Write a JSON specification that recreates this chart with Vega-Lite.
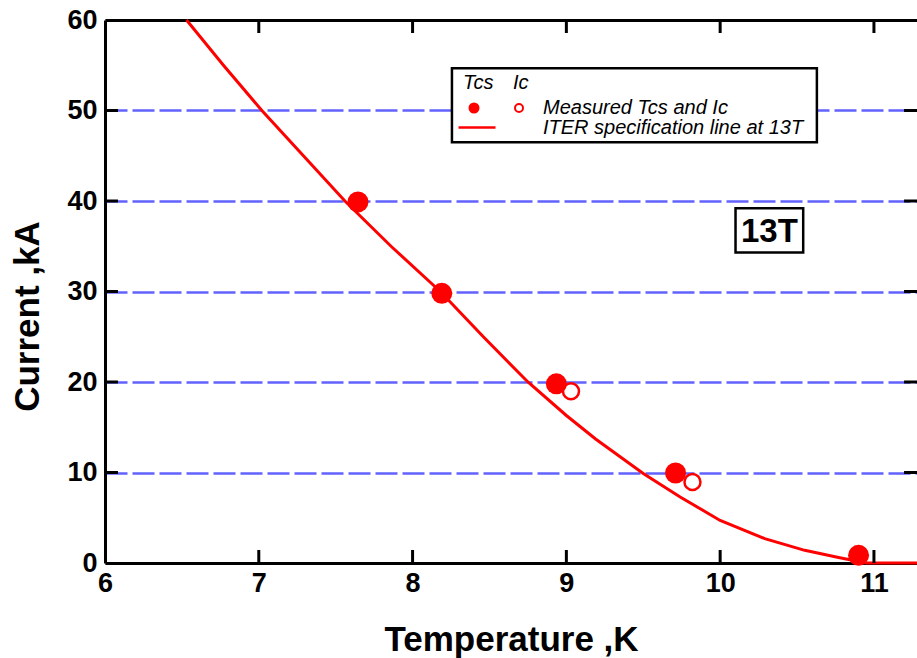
{
  "$schema": "https://vega.github.io/schema/vega-lite/v6.json",
  "width": 812,
  "height": 543,
  "autosize": "none",
  "padding": {"left": 105, "top": 20, "right": 0, "bottom": 95},
  "background": "white",
  "config": {
    "view": {"stroke": null},
    "font": "Liberation Sans",
    "axis": {
      "domainColor": "black", "domainWidth": 3,
      "labelFont": "Liberation Sans", "labelFontSize": 27, "labelFontWeight": "bold", "labelColor": "black",
      "labelFlush": false, "labelOverlap": false,
      "titleFont": "Liberation Sans", "titleFontSize": 35, "titleFontWeight": "bold", "titleColor": "black",
      "grid": false, "ticks": false
    },
    "legend": {
      "titleFont": "Liberation Sans", "titleFontSize": 20, "titleFontStyle": "italic", "titleFontWeight": "normal",
      "titleColor": "black", "titlePadding": 5,
      "labelFont": "Liberation Sans", "labelFontSize": 20, "labelFontStyle": "italic", "labelColor": "black",
      "labelLimit": 400, "padding": 0, "direction": "vertical"
    }
  },
  "datasets": {
    "curve": [
      {"T": 6.53, "I": 60}, {"T": 6.77, "I": 55}, {"T": 7.02, "I": 50}, {"T": 7.29, "I": 45},
      {"T": 7.56, "I": 40}, {"T": 7.86, "I": 35}, {"T": 8.18, "I": 30}, {"T": 8.46, "I": 25},
      {"T": 8.75, "I": 20}, {"T": 9.0, "I": 16.3}, {"T": 9.19, "I": 13.7}, {"T": 9.5, "I": 9.9},
      {"T": 9.74, "I": 7.3}, {"T": 10.0, "I": 4.7}, {"T": 10.29, "I": 2.7}, {"T": 10.55, "I": 1.4},
      {"T": 10.77, "I": 0.6}, {"T": 10.95, "I": 0}, {"T": 11.28, "I": 0}
    ],
    "tcs": [
      {"T": 7.645, "I": 39.9}, {"T": 8.19, "I": 29.8}, {"T": 8.935, "I": 19.8},
      {"T": 9.71, "I": 9.95}, {"T": 10.9, "I": 0.85}
    ],
    "ic": [
      {"T": 9.03, "I": 18.97}, {"T": 9.82, "I": 8.95}
    ],
    "xticks": [{"T": 7}, {"T": 8}, {"T": 9}, {"T": 10}, {"T": 11}],
    "yticks": [{"I": 10}, {"I": 20}, {"I": 30}, {"I": 40}, {"I": 50}],
    "note": [{"label": "13T"}]
  },
  "layer": [
    {
      "data": {"name": "note"},
      "mark": {"type": "rect", "fill": "white", "stroke": "black", "strokeWidth": 2.5},
      "encoding": {
        "x": {"datum": 8.256, "type": "quantitative", "scale": {"domain": [6, 11.28], "nice": false, "zero": false}, "axis": null},
        "x2": {"datum": 10.629},
        "y": {"datum": 54.66, "type": "quantitative", "scale": {"domain": [0, 60], "nice": false, "zero": false}, "axis": null},
        "y2": {"datum": 46.49}
      }
    },
    {
      "data": {"name": "curve"},
      "mark": {"type": "line", "strokeWidth": 3},
      "encoding": {
        "x": {"field": "T", "type": "quantitative",
          "scale": {"domain": [6, 11.28], "nice": false, "zero": false},
          "axis": {"orient": "bottom", "values": [6, 7, 8, 9, 10, 11], "labelPadding": 7,
            "title": "Temperature ,K", "titleY": 87, "titleBaseline": "alphabetic"}},
        "y": {"field": "I", "type": "quantitative",
          "scale": {"domain": [0, 60], "nice": false, "zero": false},
          "axis": {"orient": "left", "values": [0, 10, 20, 30, 40, 50, 60], "labelPadding": 8,
            "grid": true, "gridColor": "#6262ff", "gridDash": [22, 5], "gridWidth": 2.5,
            "title": "Current ,kA", "titleX": -67, "titleY": 296, "titleAngle": 270,
            "titleAlign": "center", "titleBaseline": "alphabetic"}},
        "color": {"datum": "ITER specification line at 13T",
          "scale": {"domain": ["ITER specification line at 13T"], "range": ["red"]},
          "legend": {"title": null, "orient": "none", "legendX": 352, "legendY": 87.5,
            "symbolType": "stroke", "symbolSize": 1369, "symbolStrokeWidth": 2.5, "labelOffset": 46}}
      }
    },
    {
      "data": {"name": "xticks"},
      "mark": {"type": "tick", "color": "black", "opacity": 1, "orient": "vertical", "size": 13, "thickness": 3},
      "encoding": {
        "x": {"field": "T", "type": "quantitative", "scale": {"domain": [6, 11.28], "nice": false, "zero": false},
          "axis": {"orient": "top", "values": [6, 7, 8, 9, 10, 11], "labels": false, "title": null}},
        "y": {"datum": 0.72, "type": "quantitative", "scale": {"domain": [0, 60], "nice": false, "zero": false},
          "axis": {"orient": "right", "values": [0, 10, 20, 30, 40, 50, 60], "labels": false, "title": null, "domain": false}}
      }
    },
    {
      "data": {"name": "xticks"},
      "mark": {"type": "tick", "color": "black", "opacity": 1, "orient": "vertical", "size": 13, "thickness": 3},
      "encoding": {
        "x": {"field": "T", "type": "quantitative", "scale": {"domain": [6, 11.28], "nice": false, "zero": false}, "axis": null},
        "y": {"datum": 59.28, "type": "quantitative", "scale": {"domain": [0, 60], "nice": false, "zero": false}, "axis": null}
      }
    },
    {
      "data": {"name": "yticks"},
      "mark": {"type": "tick", "color": "black", "opacity": 1, "orient": "horizontal", "size": 13, "thickness": 3},
      "encoding": {
        "y": {"field": "I", "type": "quantitative", "scale": {"domain": [0, 60], "nice": false, "zero": false}, "axis": null},
        "x": {"datum": 6.042, "type": "quantitative", "scale": {"domain": [6, 11.28], "nice": false, "zero": false}, "axis": null}
      }
    },
    {
      "data": {"name": "yticks"},
      "mark": {"type": "tick", "color": "black", "opacity": 1, "orient": "horizontal", "size": 13, "thickness": 3},
      "encoding": {
        "y": {"field": "I", "type": "quantitative", "scale": {"domain": [0, 60], "nice": false, "zero": false}, "axis": null},
        "x": {"datum": 11.238, "type": "quantitative", "scale": {"domain": [6, 11.28], "nice": false, "zero": false}, "axis": null}
      }
    },
    {
      "data": {"name": "tcs"},
      "mark": {"type": "point", "filled": true, "color": "red", "opacity": 1, "size": 441},
      "encoding": {
        "x": {"field": "T", "type": "quantitative", "scale": {"domain": [6, 11.28], "nice": false, "zero": false}, "axis": null},
        "y": {"field": "I", "type": "quantitative", "scale": {"domain": [0, 60], "nice": false, "zero": false}, "axis": null},
        "shape": {"datum": "Measured Tcs and Ic",
          "scale": {"domain": ["Measured Tcs and Ic"], "range": ["circle"]},
          "legend": {"title": "Tcs", "orient": "none", "legendX": 358, "legendY": 53,
            "symbolSize": 121, "symbolStrokeWidth": 1, "symbolStrokeColor": "red", "symbolFillColor": "red",
            "symbolOffset": 1, "labelOffset": 59}
        }
      }
    },
    {
      "data": {"name": "ic"},
      "mark": {"type": "point", "filled": false, "opacity": 1, "size": 256, "strokeWidth": 2.5},
      "encoding": {
        "x": {"field": "T", "type": "quantitative", "scale": {"domain": [6, 11.28], "nice": false, "zero": false}, "axis": null},
        "y": {"field": "I", "type": "quantitative", "scale": {"domain": [0, 60], "nice": false, "zero": false}, "axis": null},
        "stroke": {"datum": "Ic", "scale": {"domain": ["Ic"], "range": ["red"]},
          "legend": {"title": "Ic", "orient": "none", "legendX": 408, "legendY": 53,
            "labelExpr": "''", "symbolSize": 64, "symbolStrokeWidth": 2, "symbolFillColor": "transparent", "symbolOffset": -4}
        }
      }
    },
    {
      "data": {"name": "note"},
      "mark": {"type": "rect", "fill": "white", "stroke": "black", "strokeWidth": 2.5},
      "encoding": {
        "x": {"datum": 10.1, "type": "quantitative", "scale": {"domain": [6, 11.28], "nice": false, "zero": false}, "axis": null},
        "x2": {"datum": 10.54},
        "y": {"datum": 39.2, "type": "quantitative", "scale": {"domain": [0, 60], "nice": false, "zero": false}, "axis": null},
        "y2": {"datum": 34.3}
      }
    },
    {
      "data": {"name": "note"},
      "mark": {"type": "text", "font": "Liberation Sans", "fontSize": 33, "fontWeight": "bold", "color": "black", "align": "center", "baseline": "middle"},
      "encoding": {
        "x": {"datum": 10.32, "type": "quantitative", "scale": {"domain": [6, 11.28], "nice": false, "zero": false}, "axis": null},
        "y": {"datum": 36.6, "type": "quantitative", "scale": {"domain": [0, 60], "nice": false, "zero": false}, "axis": null},
        "text": {"field": "label"}
      }
    }
  ],
  "resolve": {"axis": {"x": "independent", "y": "independent"}}
}
